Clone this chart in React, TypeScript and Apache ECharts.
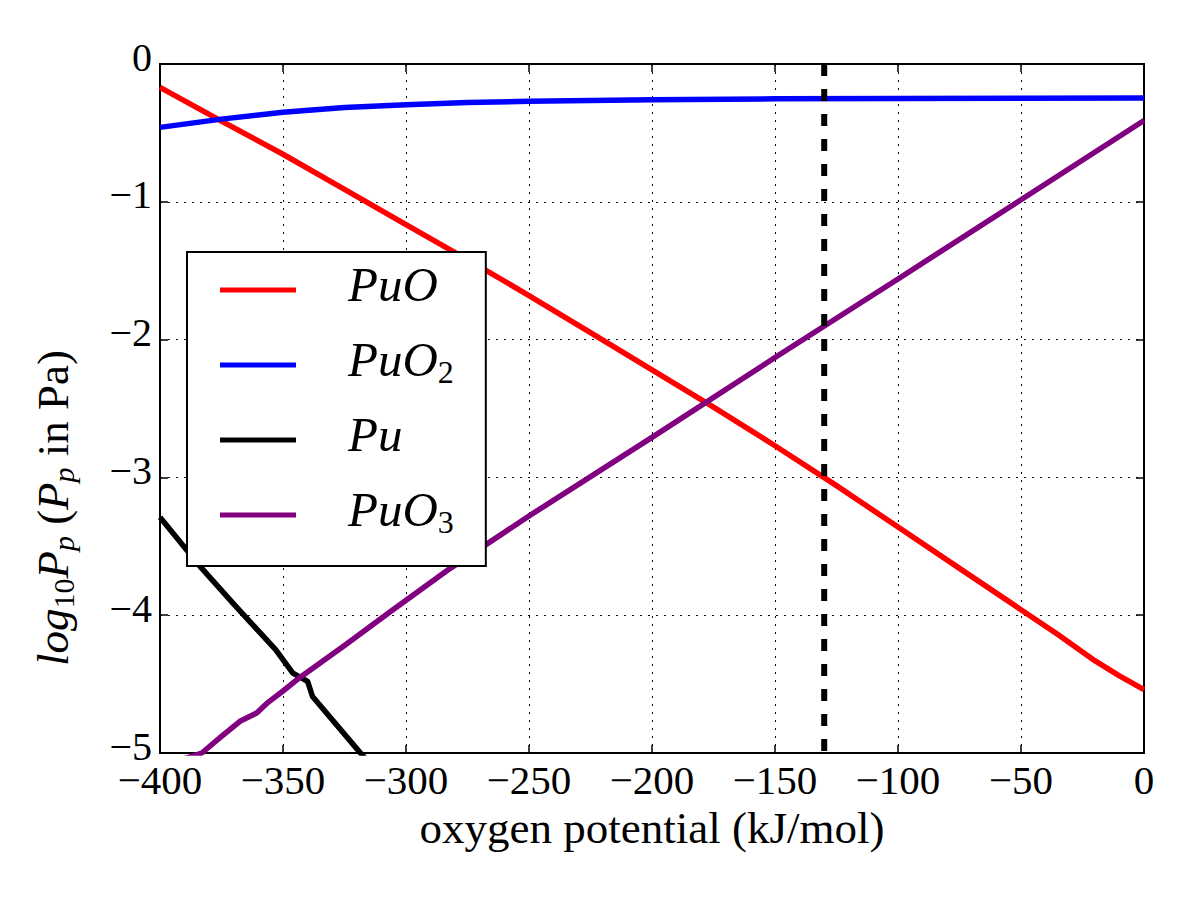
import React, { useEffect, useRef } from "react";
import * as echarts from "echarts";

// Partial pressures (log10 Pa) of plutonium oxide vapour species versus oxygen potential (kJ/mol)
const puoPotential = [-400, -375, -350, -325, -300, -275, -250, -225, -200, -175, -150, -125, -100, -75, -50, -35, -20, -10, 0];
const puoLogP = [-0.17, -0.415, -0.655, -0.91, -1.165, -1.42, -1.68, -1.95, -2.22, -2.49, -2.77, -3.06, -3.36, -3.66, -3.96, -4.14, -4.33, -4.44, -4.54];

const puo2Potential = [-400, -375, -350, -325, -300, -275, -250, -200, -150, -100, -50, 0];
const puo2LogP = [-0.46, -0.4, -0.35, -0.315, -0.295, -0.28, -0.27, -0.26, -0.253, -0.25, -0.248, -0.247];

const puPotential = [-400, -384, -370, -353, -346, -340, -338, -319, -315];
const puLogP = [-3.29, -3.64, -3.92, -4.25, -4.42, -4.48, -4.59, -4.99, -5.07];

const puo3Potential = [-395, -383, -375, -367.5, -360.7, -356.6, -350, -343, -325, -306, -282, -250, -200, -150, -100, -50, 0];
const puo3LogP = [-5.07, -5.0, -4.88, -4.77, -4.71, -4.64, -4.55, -4.45, -4.22, -3.97, -3.66, -3.28, -2.71, -2.13, -1.56, -0.985, -0.41];

// Oxygen potential marked by the vertical dashed line
const markedPotential = -130;
const logPRange = [0, -5];

const xTicks = { min: -400, max: 0, step: 50 };
const yTicks = { min: -5, max: 0, step: 1 };

const speciesNames = ["PuO", "PuO2", "Pu", "PuO3"];
const speciesLabels: Record<string, string> = {
  PuO: "{i|PuO}",
  PuO2: "{i|PuO}{s|2}",
  Pu: "{i|Pu}",
  PuO3: "{i|PuO}{s|3}",
};

const FONT = "'Liberation Serif', 'DejaVu Serif', serif";

const pairs = (xs: number[], ys: number[]) => xs.map((x, i) => [x, ys[i]]);
const minusFmt = (v: number) => (v < 0 ? "\u2212" + Math.abs(v) : String(v));

export default function App() {
  const ref = useRef<HTMLDivElement>(null);

  useEffect(() => {
    if (!ref.current) return;
    const chart = echarts.init(ref.current, undefined, { renderer: "svg" });

    const lineSeries = (name: string, xs: number[], ys: number[], color: string) => ({
      name,
      type: "line",
      data: pairs(xs, ys),
      showSymbol: false,
      symbol: "none",
      clip: true,
      lineStyle: { color, width: 5.5, join: "round" },
      itemStyle: { color },
      emphasis: { disabled: true },
    });

    const baseX = {
      type: "value",
      min: xTicks.min,
      max: xTicks.max,
      interval: xTicks.step,
    };
    const baseY = {
      type: "value",
      min: yTicks.min,
      max: yTicks.max,
      interval: yTicks.step,
    };
    const tickStyle = { show: true, inside: true, length: 8, lineStyle: { color: "#000", width: 1.5 } };

    // legend rows: main text raised, subscripts lowered, all within one fixed line box
    const LEGEND_LINE = 64;
    // y-axis title line box
    const TITLE_LINE = 56;

    chart.setOption({
      animation: false,
      backgroundColor: "#fff",
      grid: {
        left: 160,
        right: 56,
        top: 64,
        bottom: 147,
        show: true,
        borderColor: "#000",
        borderWidth: 2,
        backgroundColor: "transparent",
      },
      xAxis: [
        {
          ...baseX,
          position: "bottom",
          axisLine: { show: true, onZero: false, lineStyle: { color: "#000", width: 2 } },
          axisTick: tickStyle,
          axisLabel: {
            color: "#000",
            fontFamily: FONT,
            fontSize: 41,
            margin: 6,
            showMinLabel: true,
            showMaxLabel: true,
            formatter: minusFmt,
          },
          splitLine: { show: true, lineStyle: { color: "#000", width: 1, type: [2, 6] } },
          name: "oxygen potential (kJ/mol)",
          nameLocation: "middle",
          nameGap: 52,
          nameTextStyle: { color: "#000", fontFamily: FONT, fontSize: 45 },
        },
        {
          ...baseX,
          position: "top",
          axisLine: { show: true, onZero: false, lineStyle: { color: "#000", width: 2 } },
          axisTick: tickStyle,
          axisLabel: { show: false },
          splitLine: { show: false },
        },
      ],
      yAxis: [
        {
          ...baseY,
          position: "left",
          axisLine: { show: true, onZero: false, lineStyle: { color: "#000", width: 2 } },
          axisTick: tickStyle,
          axisLabel: {
            color: "#000",
            fontFamily: FONT,
            fontSize: 40,
            margin: 8,
            lineHeight: 14,
            verticalAlign: "bottom",
            showMinLabel: true,
            showMaxLabel: true,
            formatter: minusFmt,
          },
          splitLine: { show: true, lineStyle: { color: "#000", width: 1, type: [2, 6] } },
        },
        {
          ...baseY,
          position: "right",
          axisLine: { show: true, onZero: false, lineStyle: { color: "#000", width: 2 } },
          axisTick: tickStyle,
          axisLabel: { show: false },
          splitLine: { show: false },
        },
      ],
      legend: {
        data: speciesNames,
        orient: "vertical",
        left: 187,
        top: 252,
        padding: [6, 32, 19, 33],
        itemGap: 11,
        itemWidth: 76,
        itemHeight: 5,
        icon: "rect",
        selectedMode: false,
        backgroundColor: "#fff",
        borderColor: "#000",
        borderWidth: 2,
        borderRadius: 0,
        formatter: (name: string) => speciesLabels[name] ?? name,
        textStyle: {
          color: "#000",
          padding: [0, 0, 0, 47],
          lineHeight: LEGEND_LINE,
          rich: {
            i: {
              fontFamily: FONT,
              fontStyle: "italic",
              fontSize: 49,
              lineHeight: LEGEND_LINE,
              padding: [0, 0, 11, 0],
              color: "#000",
            },
            s: {
              fontFamily: FONT,
              fontSize: 32,
              lineHeight: LEGEND_LINE,
              padding: [14, 0, 0, 0],
              color: "#000",
            },
          },
        },
      },
      graphic: [
        {
          type: "text",
          x: 53,
          y: 508,
          rotation: Math.PI / 2,
          silent: true,
          style: {
            text: "{i|log}{s|10}{i|P}{si|p}{r| (}{i|P}{si|p}{r| in Pa)}",
            align: "center",
            verticalAlign: "middle",
            fill: "#000",
            lineHeight: TITLE_LINE,
            rich: {
              i: { fontFamily: FONT, fontStyle: "italic", fontSize: 45, lineHeight: TITLE_LINE, fill: "#000" },
              r: { fontFamily: FONT, fontSize: 45, lineHeight: TITLE_LINE, fill: "#000" },
              s: { fontFamily: FONT, fontSize: 30, lineHeight: TITLE_LINE, padding: [20, 0, 0, 0], fill: "#000" },
              si: {
                fontFamily: FONT,
                fontStyle: "italic",
                fontSize: 30,
                lineHeight: TITLE_LINE,
                padding: [20, 0, 0, 0],
                fill: "#000",
              },
            },
          },
        },
      ],
      series: [
        lineSeries("PuO", puoPotential, puoLogP, "#ff0000"),
        lineSeries("PuO2", puo2Potential, puo2LogP, "#0000ff"),
        lineSeries("Pu", puPotential, puLogP, "#000000"),
        lineSeries("PuO3", puo3Potential, puo3LogP, "#800080"),
        {
          name: "marked potential",
          type: "line",
          data: logPRange.map((y) => [markedPotential, y]),
          showSymbol: false,
          symbol: "none",
          lineStyle: { color: "#000", width: 6, type: [12, 13] },
          emphasis: { disabled: true },
          z: 3,
        },
      ],
    });

    return () => chart.dispose();
  }, []);

  return (
    <div
      ref={ref}
      style={{ position: "fixed", left: 0, top: 0, width: 1200, height: 900, background: "#fff" }}
    />
  );
}
